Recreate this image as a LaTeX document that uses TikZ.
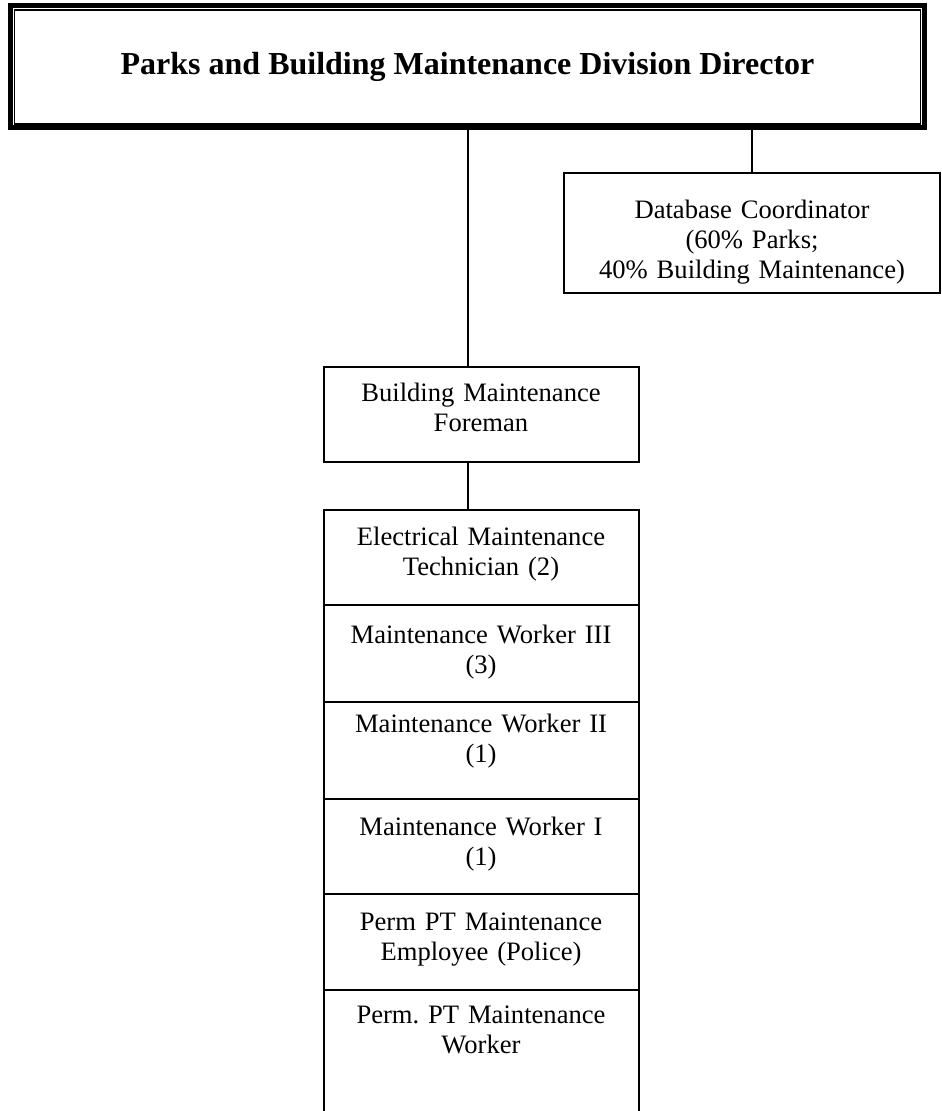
\documentclass[tikz,border=0pt]{standalone}
\usepackage{fontspec}
\setmainfont{Liberation Serif}
\usetikzlibrary{positioning, calc}
\frenchspacing

\begin{document}
\begin{tikzpicture}[
    x=0.5pt, y=-0.5pt,
    font=\fontsize{13.3}{15}\selectfont,
    link/.style={draw=black, line width=1pt},
    headbox/.style={rectangle, draw=black, line width=0.6pt,
                    align=center, inner sep=0pt, outer sep=0pt,
                    minimum width=453pt, minimum height=57pt,
                    font=\fontsize{16}{19}\selectfont\bfseries},
    outerframe/.style={draw=black, line width=2.5pt},
    post/.style={rectangle, draw=black, line width=1pt, fill=white,
                 align=center, inner sep=0pt, outer sep=0pt,
                 text width=157.5pt, text height=17.5pt,
                 text depth=30pt, anchor=north},
    sidebox/.style={post, text width=188pt, text height=23pt,
                    text depth=37pt},
]

%% ─── page frame (pixel grid of the reference) ────────────────
\path[use as bounding box, clip] (0,0) rectangle (941,1111);

%% ─── director ────────────────────────────────────────────────
\node[headbox] (director) at (467.5, 67)
    {Parks and Building Maintenance Division Director};
\draw[outerframe] ($(director.north west)+(-4,-4)$)
    rectangle ($(director.south east)+(4,4)$);

%% ─── side position ───────────────────────────────────────────
\node[sidebox] (dbc) at (752, 173)
    {Database Coordinator\\(60\% Parks;\\40\% Building Maintenance)};

%% ─── foreman and crew stack ──────────────────────────────────
\node[post] (foreman) at (481, 367) {Building Maintenance\\Foreman};

\node[post] (elec) at (481, 510) {Electrical Maintenance\\Technician (2)};
\node[post, below=0pt of elec, text height=19pt, text depth=29.5pt]
    (mw3) {Maintenance Worker III\\(3)};
\node[post, below=0pt of mw3, text height=15pt, text depth=33.5pt]
    (mw2) {Maintenance Worker II\\(1)};
\node[post, below=0pt of mw2, text height=18pt, text depth=29.5pt]
    (mw1) {Maintenance Worker I\\(1)};
\node[post, below=0pt of mw1, text height=18pt, text depth=30pt]
    (pptpolice) {Perm PT Maintenance\\Employee (Police)};
\node[post, below=0pt of pptpolice, text height=16.5pt, text depth=70pt]
    (pptworker) {Perm. PT Maintenance\\Worker};

%% ─── connectors ──────────────────────────────────────────────
\draw[link] (director.south) -- (director.south |- foreman.north);
\draw[link] (director.south -| dbc.north) -- (dbc.north);
\draw[link] (director.south |- foreman.south)
    -- (director.south |- elec.north);

\end{tikzpicture}
\end{document}
